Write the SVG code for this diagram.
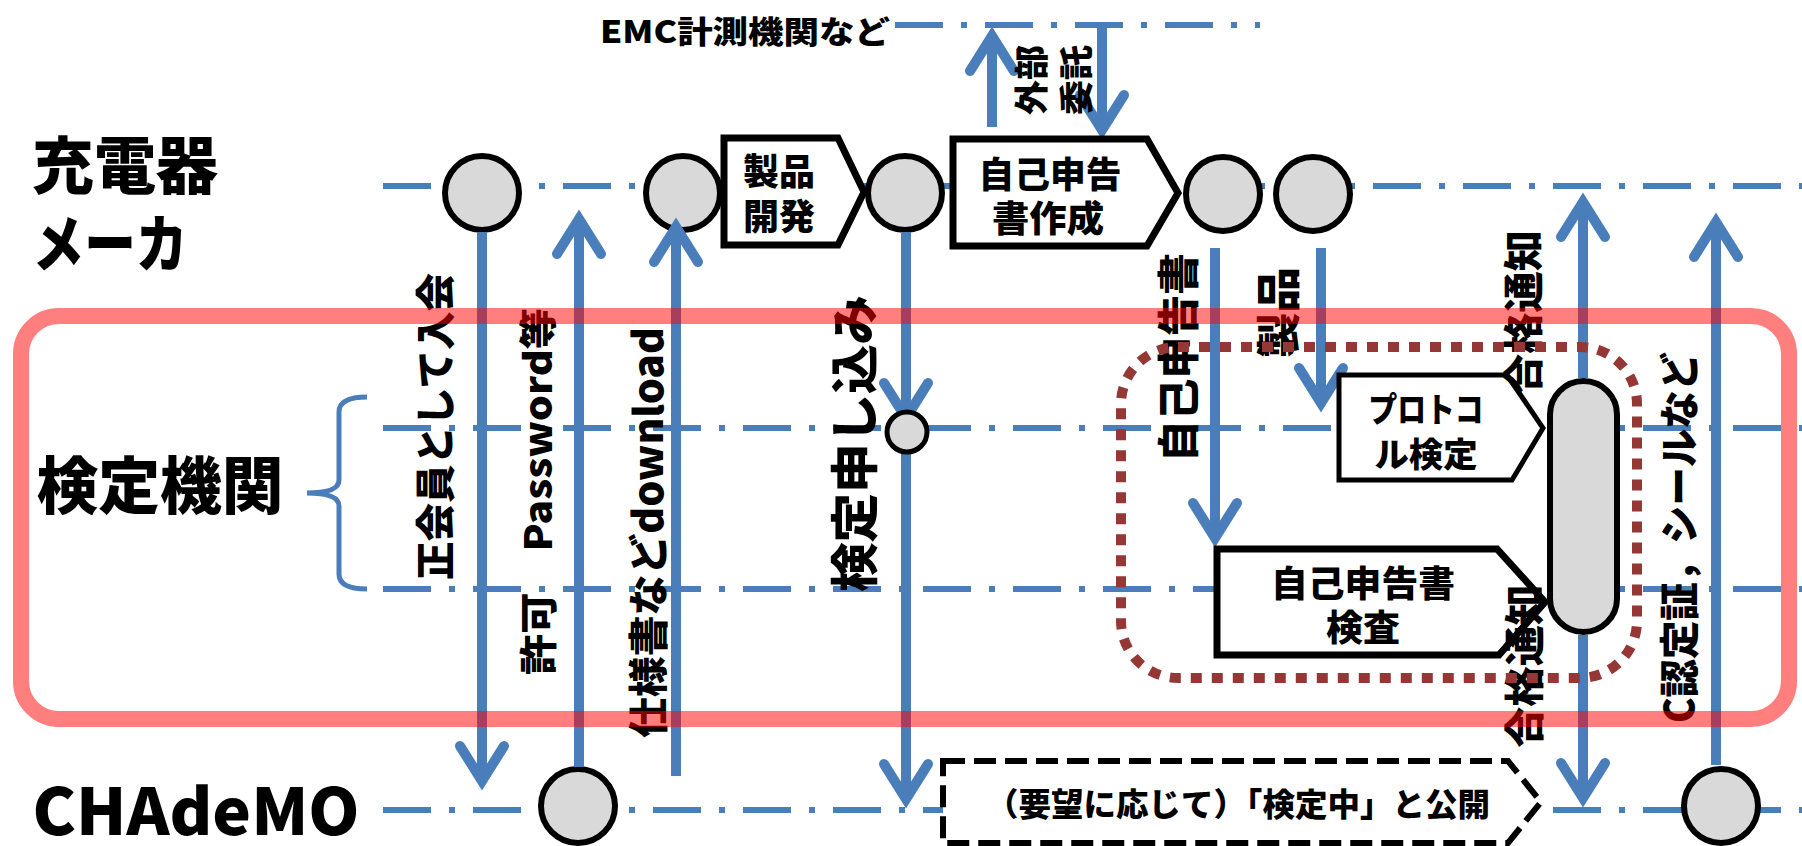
<svg xmlns="http://www.w3.org/2000/svg" width="1802" height="846" viewBox="0 0 1802 846">
<style>
.lane{stroke:#4A7EBB;stroke-width:6;stroke-dasharray:48 18 6 18;fill:none}
.conn{stroke:#4A7EBB;stroke-width:10;fill:none;marker-end:url(#ah)}
.node{fill:#D9D9D9;stroke:#000;stroke-width:6}
.box{fill:#fff;stroke:#000;stroke-width:7;stroke-linejoin:miter}
.t{font-family:"Noto Sans CJK JP","Noto Sans",sans-serif;font-weight:900;fill:#000;text-anchor:middle;dominant-baseline:central}
</style>
<defs>
<marker id="ah" markerUnits="userSpaceOnUse" orient="auto" markerWidth="80" markerHeight="80" viewBox="-50 -40 80 80" refX="0" refY="0" overflow="visible">
<path d="M-35,-22 L0,0 L-35,22" fill="none" stroke="#4A7EBB" stroke-width="10" stroke-linecap="round" stroke-linejoin="miter"/>
</marker>
</defs>

<g id="lanes">
<line class="lane" x1="895" y1="25" x2="1260" y2="25"/>
<line class="lane" x1="383" y1="186" x2="1802" y2="186"/>
<line class="lane" x1="383" y1="428" x2="1802" y2="428"/>
<line class="lane" x1="383" y1="589" x2="1802" y2="589"/>
<line class="lane" x1="383" y1="810" x2="1802" y2="810"/>
<path d="M367,397 Q339,397 339,412 L339,480 Q339,493 307,493 Q339,493 339,506 L339,574 Q339,589 367,589" fill="none" stroke="#4A7EBB" stroke-width="5"/>
</g>

<g id="n-c1"><circle class="node" cx="482" cy="193" r="37"/></g>
<g id="n-c2"><circle class="node" cx="683" cy="193" r="37"/></g>
<g id="n-c3"><circle class="node" cx="905" cy="193" r="37"/></g>
<g id="n-c4"><circle class="node" cx="1223" cy="194" r="37"/></g>
<g id="n-c5"><circle class="node" cx="1313" cy="194" r="37"/></g>
<g id="n-c6"><circle class="node" cx="578" cy="806" r="37"/></g>
<g id="n-c7"><circle class="node" cx="1721" cy="806" r="37"/></g>

<g id="connectors">
<line class="conn" x1="482" y1="232" x2="482" y2="781"/>
<line class="conn" x1="579" y1="767" x2="579" y2="219"/>
<line class="conn" x1="676" y1="776" x2="676" y2="227"/>
<line class="conn" x1="906" y1="232" x2="906" y2="418"/>
<line class="conn" x1="906" y1="432" x2="906" y2="799"/>
<line class="conn" x1="992" y1="127" x2="992" y2="36"/>
<line class="conn" x1="1102" y1="25" x2="1102" y2="130"/>
<line class="conn" x1="1215" y1="248" x2="1215" y2="538"/>
<line class="conn" x1="1321" y1="248" x2="1321" y2="403"/>
<line class="conn" x1="1583" y1="378" x2="1583" y2="202"/>
<line class="conn" x1="1583" y1="635" x2="1583" y2="798"/>
<line class="conn" x1="1716" y1="765" x2="1716" y2="222"/>
</g>

<g id="n-dev">
<polygon class="box" points="724,138 838,138 864,192 838,245 724,245"/>
<text class="t" x="779" y="169" font-size="36" textLength="72" lengthAdjust="spacingAndGlyphs">製品</text>
<text class="t" x="779" y="214" font-size="36" textLength="72" lengthAdjust="spacingAndGlyphs">開発</text>
</g>
<g id="n-doc">
<polygon class="box" points="953,139 1147,139 1178,193 1147,246 953,246"/>
<text class="t" x="1050" y="172" font-size="36" textLength="143" lengthAdjust="spacingAndGlyphs">自己申告</text>
<text class="t" x="1048" y="216" font-size="36" textLength="112" lengthAdjust="spacingAndGlyphs">書作成</text>
</g>
<g id="n-proto">
<polygon class="box" style="stroke-width:5" points="1339,375 1507,375 1543,428 1512,480 1339,480"/>
<text class="t" x="1426" y="407" font-size="34" textLength="115" lengthAdjust="spacingAndGlyphs">プロトコ</text>
<text class="t" x="1426" y="452" font-size="34" textLength="103" lengthAdjust="spacingAndGlyphs">ル検定</text>
</g>
<g id="n-check">
<polygon class="box" points="1217,549 1497,549 1545,602 1499,655 1217,655"/>
<text class="t" x="1363" y="581" font-size="36" textLength="184" lengthAdjust="spacingAndGlyphs">自己申告書</text>
<text class="t" x="1363" y="625" font-size="36" textLength="74" lengthAdjust="spacingAndGlyphs">検査</text>
</g>
<g id="n-pub">
<polygon fill="#fff" stroke="#000" stroke-width="6" stroke-dasharray="22 9" points="943,761 1508,761 1541,802 1508,843 943,843"/>
<text class="t" x="1238" y="802" font-size="32" textLength="504" lengthAdjust="spacingAndGlyphs">（要望に応じて）「検定中」と公開</text>
</g>
<g id="n-pill"><rect class="node" x="1550" y="381" width="67" height="251" rx="33.5"/></g>
<g id="n-small"><circle class="node" style="stroke-width:5" cx="907" cy="432" r="20"/></g>

<g id="labels">
<text class="t" x="745" y="29" font-size="31" textLength="290" lengthAdjust="spacingAndGlyphs">EMC計測機関など</text>
<text class="t" x="125" y="162" font-size="62" textLength="186" lengthAdjust="spacingAndGlyphs">充電器</text>
<text class="t" x="110" y="240" font-size="62" textLength="155" lengthAdjust="spacingAndGlyphs">メーカ</text>
<text class="t" x="160" y="482" font-size="62" textLength="247" lengthAdjust="spacingAndGlyphs">検定機関</text>
<text class="t" x="196" y="807" font-size="64" textLength="327" lengthAdjust="spacingAndGlyphs">CHAdeMO</text>

<text class="t" transform="translate(1029,80) rotate(-90)" font-size="34" textLength="70" lengthAdjust="spacingAndGlyphs">外部</text>
<text class="t" transform="translate(1074,80) rotate(-90)" font-size="34" textLength="70" lengthAdjust="spacingAndGlyphs">委託</text>
<text class="t" transform="translate(433,426.5) rotate(-90)" font-size="40" textLength="307" lengthAdjust="spacingAndGlyphs">正会員として入会</text>
<text class="t" transform="translate(535,491.5) rotate(-90)" font-size="38" textLength="367" lengthAdjust="spacingAndGlyphs">許可　Password等</text>
<text class="t" transform="translate(646,532.5) rotate(-90)" font-size="40" textLength="411" lengthAdjust="spacingAndGlyphs">仕様書などdownload</text>
<text class="t" transform="translate(851,443.5) rotate(-90)" font-size="48" textLength="297" lengthAdjust="spacingAndGlyphs">検定申し込み</text>
<text class="t" transform="translate(1175,357.5) rotate(-90)" font-size="42" textLength="209" lengthAdjust="spacingAndGlyphs">自己申告書</text>
<text class="t" transform="translate(1276,312.5) rotate(-90)" font-size="44" textLength="91" lengthAdjust="spacingAndGlyphs">製品</text>
<text class="t" transform="translate(1521,312.5) rotate(-90)" font-size="40" textLength="165" lengthAdjust="spacingAndGlyphs">合格通知</text>
<text class="t" transform="translate(1522,666) rotate(-90)" font-size="40" textLength="163" lengthAdjust="spacingAndGlyphs">合格通知</text>
<text class="t" transform="translate(1677,537.5) rotate(-90)" font-size="40" textLength="371" lengthAdjust="spacingAndGlyphs">C認定証，シールなど</text>
</g>

<g id="n-group">
<rect x="1121" y="347" width="516" height="331" rx="57" fill="none" stroke="#953735" stroke-width="10" stroke-dasharray="11 10"/>
</g>
<g id="n-frame">
<rect x="21" y="316" width="1768" height="403" rx="38" fill="none" stroke="#FF0000" stroke-opacity="0.5" stroke-width="16"/>
</g>
</svg>
